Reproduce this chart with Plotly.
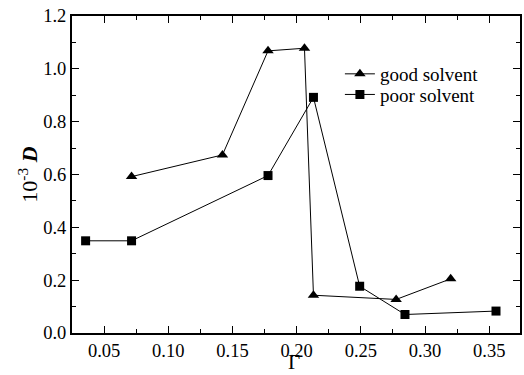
import plotly.graph_objects as go

good_x = [0.0714, 0.1422, 0.1777, 0.2061, 0.2131, 0.2775, 0.3200]
good_y = [0.592, 0.674, 1.068, 1.078, 0.143, 0.127, 0.205]
poor_x = [0.0356, 0.0714, 0.1777, 0.2131, 0.2491, 0.2844, 0.3553]
poor_y = [0.349, 0.349, 0.596, 0.892, 0.177, 0.070, 0.083]

x_ticks = [0.05, 0.10, 0.15, 0.20, 0.25, 0.30, 0.35]
y_ticks = [0.0, 0.2, 0.4, 0.6, 0.8, 1.0, 1.2]

FONT = "'Liberation Serif', 'Times New Roman', Times, serif"

fig = go.Figure()
fig.add_trace(go.Scatter(x=good_x, y=good_y, mode="lines+markers", name="good solvent",
                         line=dict(color="black", width=1), legend="legend",
                         marker=dict(symbol="triangle-up", size=10, color="black")))
fig.add_trace(go.Scatter(x=poor_x, y=poor_y, mode="lines+markers", name="poor solvent",
                         line=dict(color="black", width=1), legend="legend2",
                         marker=dict(symbol="square", size=9, color="black")))

axis_common = dict(showline=True, linecolor="black", linewidth=2, mirror="ticks",
                   ticks="inside", ticklen=7, tickwidth=1, tickcolor="black",
                   showgrid=False, zeroline=False,
                   tickfont=dict(family=FONT, size=18.5, color="black"))

fig.update_xaxes(range=[0.025, 0.374], tickvals=x_ticks,
                 ticktext=[f"{v:.2f}" for v in x_ticks],
                 minor=dict(ticks="inside", ticklen=4, dtick=0.025, tick0=0.025, tickcolor="black"),
                 **axis_common)
fig.update_yaxes(range=[0, 1.2], tickvals=y_ticks,
                 ticktext=[f"{v:.1f}" for v in y_ticks],
                 minor=dict(ticks="inside", ticklen=4, dtick=0.1, tick0=0, tickcolor="black"),
                 **axis_common)

fig.add_annotation(text="10<sup>-3</sup> <b><i>D</i></b>", xref="paper", yref="paper",
                   x=-0.1, y=0.5, xanchor="center", yanchor="middle",
                   textangle=-90, showarrow=False,
                   font=dict(family=FONT, size=22, color="black"))
fig.add_annotation(text="Γ", xref="paper", yref="paper",
                   x=0.495, y=-0.135, xanchor="center", yanchor="bottom",
                   showarrow=False,
                   font=dict(family=FONT, size=21, color="black"))

leg_common = dict(x=0.598, xanchor="left", yanchor="top",
                  bgcolor="rgba(0,0,0,0)", borderwidth=0,
                  font=dict(family=FONT, size=19, color="black"),
                  itemwidth=30)

fig.update_layout(width=524, height=375,
                  margin=dict(l=72, r=2, t=16, b=42),
                  plot_bgcolor="white", paper_bgcolor="white",
                  showlegend=True,
                  legend=dict(y=0.877, **leg_common),
                  legend2=dict(y=0.812, **leg_common),
                  font=dict(family=FONT, color="black"))

fig.write_html("out.html", config={"displayModeBar": False},
               post_script="document.body.style.margin='0px';document.body.style.overflow='hidden';")
